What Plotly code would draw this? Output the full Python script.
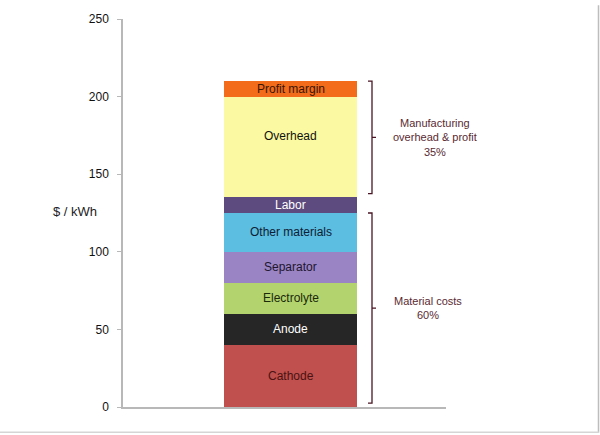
import plotly.graph_objects as go

# ---- data ----
segments = ["Cathode", "Anode", "Electrolyte", "Separator", "Other materials",
            "Labor", "Overhead", "Profit margin"]
values = [40, 20, 20, 20, 25, 10, 65, 10]
colors = ["#c0504d", "#262626", "#b3d36f", "#9a84c4", "#5cbee0",
          "#5d4a7e", "#fbfaa2", "#f26c1c"]
label_colors = ["#4a1212", "#ffffff", "#1a2a0a", "#1e1530", "#0f2035",
                "#ffffff", "#111111", "#3a1500"]
group_labels = ["Manufacturing<br>overhead & profit<br>35%", "Material costs<br>60%"]
group_ranges = [(137.5, 210), (2.5, 125)]
y_ticks = [0, 50, 100, 150, 200, 250]
y_title = "$ / kWh"
category = "Battery"

W, H = 600, 435
ML, MR, MT, MB = 123, 154, 14, 28
PW = W - ML - MR
PH = H - MT - MB

fig = go.Figure()
for name, v, c in zip(segments, values, colors):
    fig.add_trace(go.Bar(x=[category], y=[v], name=name, marker=dict(color=c, line=dict(width=0)),
                         width=0.41, hoverinfo="name+y"))

# segment labels
base = 0
for name, v, lc in zip(segments, values, label_colors):
    fig.add_annotation(x=category, y=base + v / 2, text=name, showarrow=False,
                       font=dict(size=12, color=lc, family="Liberation Sans, Arial, sans-serif"),
                       yshift=11 if name == "Overhead" else 0)
    base += v

# brackets (right curly braces) in paper-x / data-y
def px2paper(px):
    return (px - ML) / PW

def py2paper(py):
    return (H - MB - py) / PH

bx = px2paper(372)
hook = px2paper(368)
tip = px2paper(376)
for (y0, y1), txt, tx in zip(group_ranges, group_labels, [435, 428]):
    ym = (y0 + y1) / 2
    path = (f"M {hook},{y1} L {bx},{y1} L {bx},{ym} L {tip},{ym} "
            f"M {bx},{ym} L {bx},{y0} L {hook},{y0}")
    fig.add_shape(type="path", path=path, xref="paper", yref="y",
                  line=dict(color="#4a1424", width=1.3))
    fig.add_annotation(x=px2paper(tx), xref="paper", y=ym, yref="y", text=txt,
                       showarrow=False, xanchor="center", yanchor="middle",
                       font=dict(size=11, color="#5a2a33", family="Liberation Sans, Arial, sans-serif"))

# y title
fig.add_annotation(x=px2paper(51), xref="paper", y=py2paper(209), yref="paper", text=y_title,
                   showarrow=False, font=dict(size=13, color="#222222",
                                              family="Liberation Sans, Arial, sans-serif"))

# frame edges of the image
fig.add_shape(type="line", xref="paper", yref="paper",
              x0=px2paper(598.5), x1=px2paper(598.5), y0=py2paper(433), y1=py2paper(0),
              line=dict(color="#bdbdbd", width=1.5))
fig.add_shape(type="line", xref="paper", yref="paper",
              x0=px2paper(0), x1=px2paper(599), y0=py2paper(432.5), y1=py2paper(432.5),
              line=dict(color="#d5d5d5", width=1.5))

fig.update_layout(
    barmode="stack",
    width=W, height=H,
    margin=dict(l=ML, r=MR, t=MT, b=MB),
    paper_bgcolor="white", plot_bgcolor="white",
    showlegend=False,
    font=dict(family="Liberation Sans, Arial, sans-serif", size=12, color="#111111"),
    xaxis=dict(type="category", range=[-0.519, 0.481], showticklabels=False,
               showline=True, linecolor="#b8b8b8", linewidth=1.5, ticks="", showgrid=False,
               zeroline=False, fixedrange=True),
    yaxis=dict(range=[0, 250], tickvals=y_ticks, showline=True, linecolor="#b8b8b8",
               linewidth=1.5, ticks="outside", ticklen=4, tickcolor="#b8b8b8",
               showgrid=False, zeroline=False, tickfont=dict(size=12, color="#111111"),
               ticklabelstandoff=6),
)

fig.write_html("out.html", config={"displayModeBar": False},
               post_script="document.body.style.margin='0';document.body.style.overflow='hidden';")
